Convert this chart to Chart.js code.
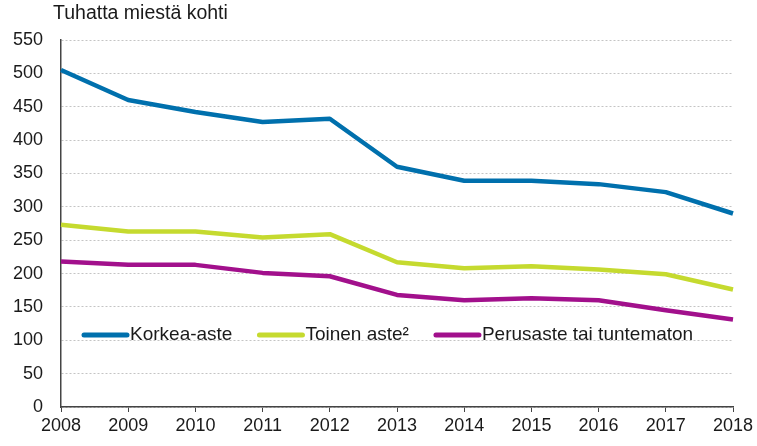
<!DOCTYPE html>
<html>
<head>
<meta charset="utf-8">
<script src="https://cdn.jsdelivr.net/npm/chart.js@4"></script>
<style>
html,body{margin:0;padding:0;background:#fff;}
#wrap{width:757px;height:446px;position:relative;}
</style>
</head>
<body>
<div id="wrap"><canvas id="c" width="757" height="446"></canvas></div>
<script>
const years = ['2008','2009','2010','2011','2012','2013','2014','2015','2016','2017','2018'];
const korkea = [505, 460, 442, 427, 432, 360, 339, 339, 334, 322, 290];
const toinen = [273, 263, 263, 254, 259, 217, 208, 211, 206, 199, 176];
const perus = [218, 213, 213, 201, 196, 168, 160, 163, 160, 145, 131];
const seriesNames = ['Korkea-aste', 'Toinen aste²', 'Perusaste tai tuntematon'];
const unitTitle = 'Tuhatta miestä kohti';

const FONT = '"Liberation Sans", Arial, sans-serif';
const colors = ['#0070AD', '#C5DA2F', '#A2108C'];

const titlePlugin = {
  id: 'unitTitle',
  afterDraw(chart) {
    const ctx = chart.ctx;
    ctx.save();
    ctx.font = '19.5px ' + FONT;
    ctx.fillStyle = '#1a1a1a';
    ctx.textBaseline = 'top';
    ctx.textAlign = 'left';
    ctx.fillText(unitTitle, 53, 4);
    ctx.restore();
  }
};

const legendPlugin = {
  id: 'inLegend',
  afterDraw(chart) {
    const ctx = chart.ctx;
    ctx.save();
    ctx.font = '19px ' + FONT;
    ctx.textBaseline = 'middle';
    ctx.textAlign = 'left';
    let x = 84;
    const y = 335;
    chart.data.datasets.forEach((ds, i) => {
      ctx.strokeStyle = ds.borderColor;
      ctx.lineWidth = 5;
      ctx.lineCap = 'round';
      ctx.beginPath();
      ctx.moveTo(x, y);
      ctx.lineTo(x + 43, y);
      ctx.stroke();
      ctx.fillStyle = '#1a1a1a';
      ctx.fillText(ds.label, x + 46, y);
      x += 46 + ctx.measureText(ds.label).width + 27;
    });
    ctx.restore();
  }
};

new Chart(document.getElementById('c'), {
  type: 'line',
  data: {
    labels: years,
    datasets: [
      {label: seriesNames[0], data: korkea, borderColor: colors[0], backgroundColor: colors[0]},
      {label: seriesNames[1], data: toinen, borderColor: colors[1], backgroundColor: colors[1]},
      {label: seriesNames[2], data: perus, borderColor: colors[2], backgroundColor: colors[2]}
    ]
  },
  plugins: [titlePlugin, legendPlugin],
  options: {
    responsive: false,
    animation: false,
    devicePixelRatio: 1,
    layout: {padding: {top: 40, right: 24, left: 0, bottom: 0}},
    elements: {
      line: {borderWidth: 4.5, tension: 0, borderCapStyle: 'butt', borderJoinStyle: 'round'},
      point: {radius: 0, hoverRadius: 0}
    },
    plugins: {legend: {display: false}, tooltip: {enabled: false}, title: {display: false}},
    scales: {
      x: {
        offset: false,
        grid: {display: true, drawOnChartArea: false, drawTicks: true, tickLength: 5, color: '#444'},
        border: {display: true, color: '#444', width: 1.5},
        ticks: {color: '#1a1a1a', font: {family: FONT, size: 18}, padding: 3, maxRotation: 0, autoSkip: false},
        afterFit(s) { s.height = 39; }
      },
      y: {
        min: 0, max: 550,
        grid: {color: '#c4c4c4', lineWidth: 1, drawTicks: false},
        border: {display: true, color: '#444', width: 1.5, dash: [2,2]},
        ticks: {stepSize: 50, color: '#1a1a1a', font: {family: FONT, size: 18}, padding: 18},
        afterFit(s) { s.width = 61; }
      }
    }
  }
});
</script>
</body>
</html>
